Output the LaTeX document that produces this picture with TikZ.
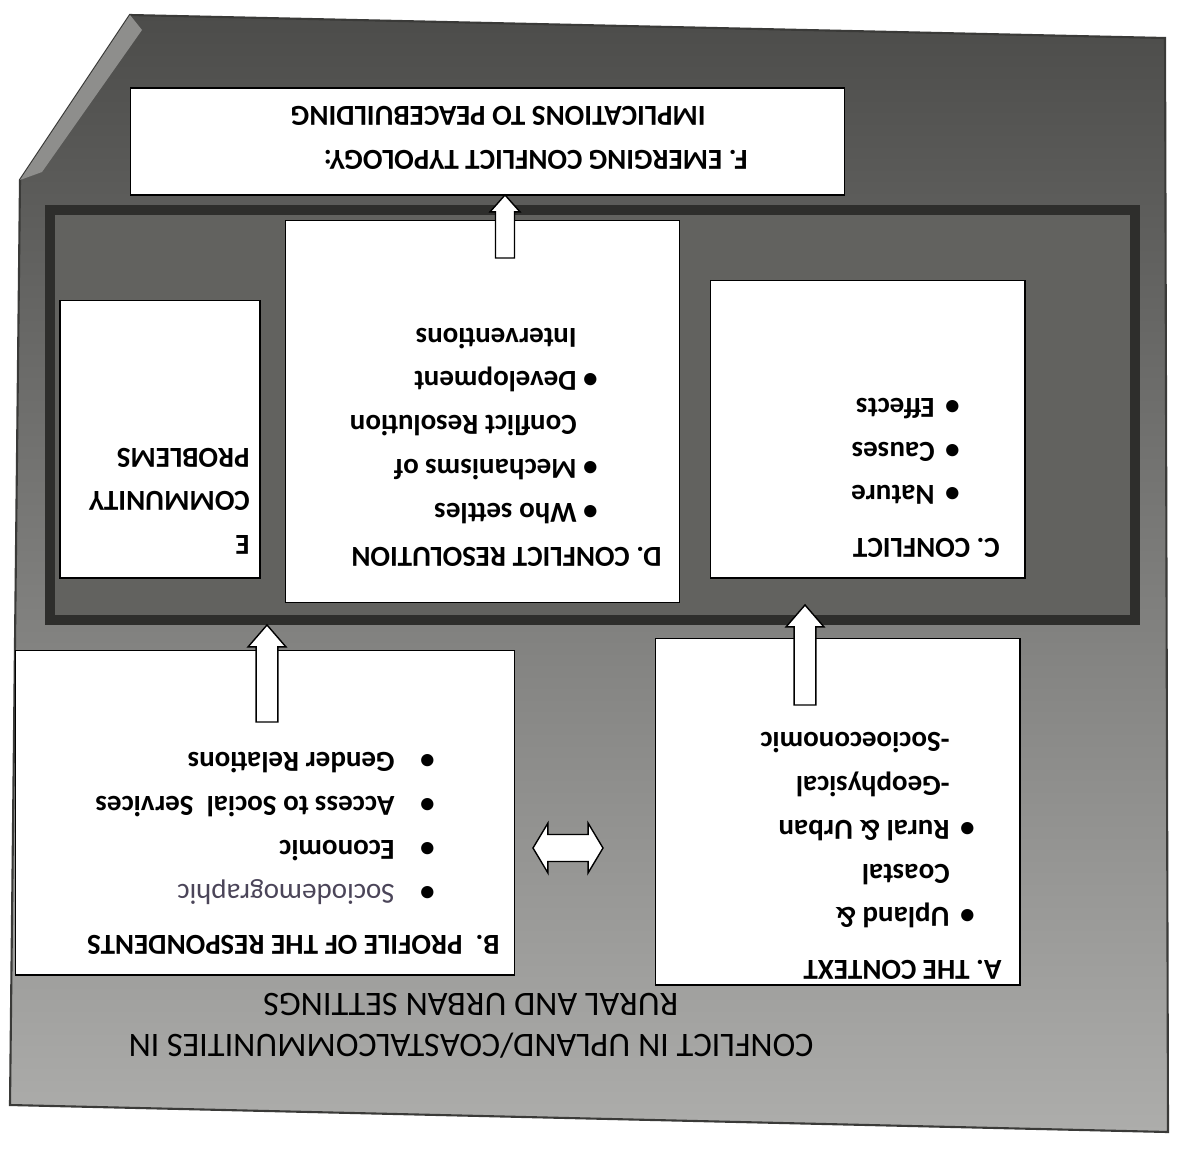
\documentclass[tikz,border=0pt]{standalone}
\usepackage{fontspec}
\setmainfont{Carlito}
\usetikzlibrary{calc}

\definecolor{pagetop}{HTML}{4C4C4A}
\definecolor{pagemid}{HTML}{6C6C69}
\definecolor{pagebot}{HTML}{ADADAB}
\definecolor{pageedge}{HTML}{3A3A38}
\definecolor{foldgray}{HTML}{8E8E8C}
\definecolor{framefill}{HTML}{62625F}
\definecolor{frameline}{HTML}{2E2E2C}
\definecolor{softink}{HTML}{4B4559}

\newlength{\px}
\setlength{\px}{0.02cm}
\newcommand{\itm}[2]{\hspace*{#1\px}\makebox[#2\px][l]{\textbullet}}

\tikzset{
  box/.style={draw=black, fill=white, line width=0.6pt, inner sep=0pt, outer sep=0pt},
  txt/.style={rotate=180, anchor=north west, inner sep=0pt, align=left,
    font=\bfseries\fontsize{16.5}{25}\selectfont},
  hollow/.style n args={3}{draw=black, fill=white, line width=0.8pt,
    to path={let \p1=(\tikztostart), \p2=(\tikztotarget),
      \p3=($(\p2)!#3!(\p1)$) in
      ($(\p1)!#1!90:(\p2)$) -- ($(\p3)!#1!90:(\p2)$) -- ($(\p3)!#2!90:(\p2)$)
      -- (\p2) -- ($(\p3)!#2!-90:(\p2)$) -- ($(\p3)!#1!-90:(\p2)$)
      -- ($(\p1)!#1!-90:(\p2)$) -- cycle}},
  hollowtwo/.style n args={3}{draw=black, fill=white, line width=0.8pt,
    to path={let \p1=(\tikztostart), \p2=(\tikztotarget),
      \p3=($(\p1)!#3!(\p2)$), \p4=($(\p2)!#3!(\p1)$) in
      (\p1) -- ($(\p3)!#2!90:(\p2)$) -- ($(\p3)!#1!90:(\p2)$)
      -- ($(\p4)!#1!-90:(\p1)$) -- ($(\p4)!#2!-90:(\p1)$) -- (\p2)
      -- ($(\p4)!#2!90:(\p1)$) -- ($(\p4)!#1!90:(\p1)$)
      -- ($(\p3)!#1!-90:(\p2)$) -- ($(\p3)!#2!-90:(\p2)$) -- cycle}},
}

\begin{document}
\begin{tikzpicture}[x=0.02cm, y=-0.02cm]
    \useasboundingbox (0,0) rectangle (1182,1156);
    \fill[white] (0,0) rectangle (1182,1156);

    % the page
    \shadedraw[top color=pagetop, middle color=pagemid, bottom color=pagebot,
        draw=pageedge, line width=1.2pt]
        (130,15) -- (1165,38) -- (1168,1132) -- (10,1105) -- (20,180) -- cycle;
    \fill[foldgray] (130,15) -- (20,180) -- (42,172) -- (142,30) -- cycle;

    \node[draw=frameline, fill=framefill, line width=10\px, inner sep=0pt,
        minimum width=21.7cm, minimum height=8.2cm] (frame) at (592.5,415) {};

    \node[box, minimum width=14.3cm, minimum height=2.14cm] (boxF) at (487.5,141.5) {};
    \node[box, minimum width=4cm, minimum height=5.56cm] (boxE) at (160,439) {};
    \node[box, minimum width=7.9cm, minimum height=7.66cm] (boxD) at (482.5,411.5) {};
    \node[box, minimum width=6.3cm, minimum height=5.96cm] (boxC) at (867.5,429) {};
    \node[box, minimum width=10cm, minimum height=6.5cm] (boxB) at (265,812.5) {};
    \node[box, minimum width=7.3cm, minimum height=6.94cm] (boxA) at (837.5,811.5) {};

    \node[txt] (textF) at (748,170) {F. EMERGING CONFLICT TYPOLOGY:\\
        \hspace*{42\px}IMPLICATIONS TO PEACEBUILDING};
    \node[txt] (textE) at (250,555) {E\\COMMUNITY\\PROBLEMS};
    \node[txt] (textD) at (662,567) {D. CONFLICT RESOLUTION\\
        \itm{64}{21}Who settles\\
        \itm{64}{21}Mechanisms of\\
        \hspace*{85\px}Conflict Resolution\\
        \itm{64}{21}Development\\
        \hspace*{85\px}Interventions};
    \node[txt] (textC) at (1000,558) {C. CONFLICT\\[5pt]
        \itm{40}{25}Nature\\
        \itm{40}{25}Causes\\
        \itm{40}{25}Effects};
    \node[txt] (textA) at (1002,980) {A. THE CONTEXT\\[5pt]
        \itm{27}{25}Upland \&\\
        \hspace*{52\px}Coastal\\
        \itm{27}{25}Rural \& Urban\\
        \hspace*{52\px}-Geophysical\\
        \hspace*{52\px}-Socioeconomic};
    \node[txt] (textB) at (500,955) {B.\ \ PROFILE OF THE RESPONDENTS\\[4pt]
        \itm{65}{40}{\mdseries\color{softink}Sociodemographic}\\
        \itm{65}{40}Economic\\
        \itm{65}{40}Access to Social\ \ Services\\
        \itm{65}{40}Gender Relations};
    \node[rotate=180, align=center, inner sep=0pt, font=\fontsize{19.5}{23.5}\selectfont]
        (heading) at (471,1026) {CONFLICT IN UPLAND/COASTALCOMMUNITIES IN\\RURAL AND URBAN SETTINGS};

    \coordinate (dTail) at (505,258);
    \coordinate (bTail) at (267,722);
    \coordinate (aTail) at (805,705);
    \coordinate (pairL) at (533,848);
    \coordinate (pairR) at (603,848);

    \draw[hollow={5.4pt}{8.5pt}{9.6pt}] (dTail) to (dTail |- boxF.south);
    \draw[hollow={6.2pt}{10.8pt}{12.5pt}] (bTail) to (bTail |- frame.south);
    \draw[hollow={6.2pt}{10.8pt}{12.5pt}] (aTail) to ($(aTail |- frame.south)+(0,-20)$);
    \draw[hollowtwo={7.7pt}{14.2pt}{8.5pt}] (pairL) to (pairR);
\end{tikzpicture}
\end{document}
